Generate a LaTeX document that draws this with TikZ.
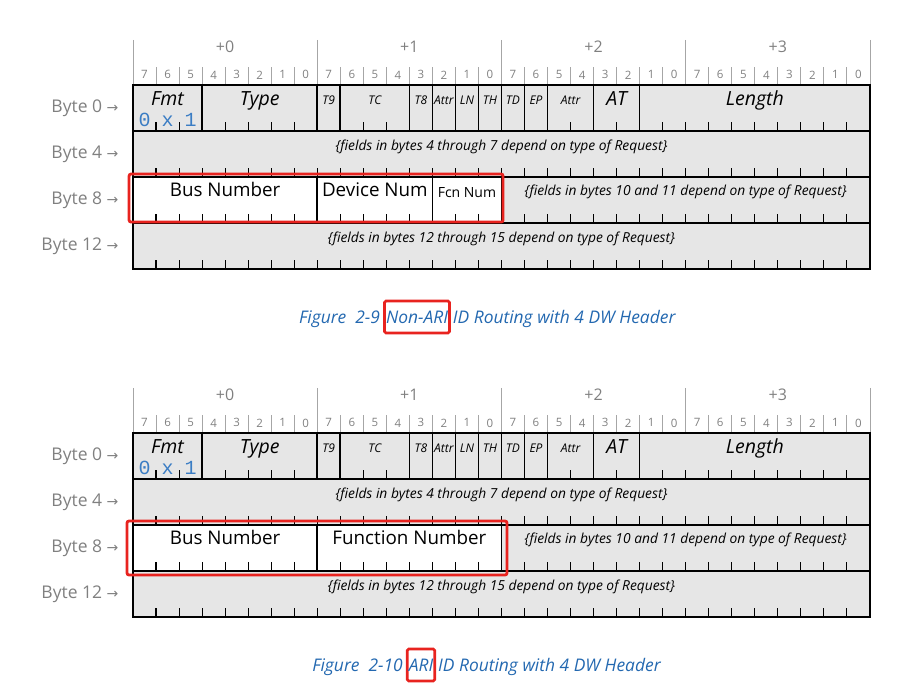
\documentclass[tikz,border=0pt]{standalone}
\usepackage{fontspec}
\setmainfont{Open Sans}
\newfontfamily\arrowfont{DejaVu Sans}
\newfontfamily\hexfont{Liberation Mono}
\usetikzlibrary{positioning}
\definecolor{cellgray}{HTML}{E6E6E6}
\definecolor{rulegray}{HTML}{A6A6A6}
\definecolor{labgray}{HTML}{808080}
\definecolor{hexblue}{HTML}{3B7DC4}
\definecolor{capblue}{HTML}{2368B0}
\definecolor{hilite}{HTML}{E8231F}
\newcommand\fsz[1]{\fontsize{#1}{#1}\selectfont}

\begin{document}
\begin{tikzpicture}[x=1pt,y=-1pt,
  cell/.style={draw=black,line width=1.6pt,fill=cellgray},
  blank/.style={draw=black,line width=1.6pt,fill=white},
  fieldsep/.style={draw=black,line width=1.6pt},
  tick/.style={line width=1.1pt},
  rulel/.style={draw=rulegray,line width=0.9pt},
  head/.style={font=\fsz{16},text=labgray},
  bitnum/.style={font=\fsz{11.5},text=labgray},
  bytelab/.style={font=\fsz{17.5},text=labgray,anchor=east},
  big/.style={font=\fsz{19.5}\itshape,inner sep=0pt,text height=14pt,text depth=3pt},
  small/.style={font=\fsz{12}\itshape,inner sep=0pt},
  note/.style={font=\fsz{13.8}\itshape},
  fieldname/.style={font=\fsz{18.8}},
  fcn/.style={font=\fsz{14}},
  hex/.style={font=\hexfont\fsz{20},text=hexblue,inner sep=0pt,text height=11pt,text depth=0pt},
  capt/.style={font=\fsz{17.4}\itshape,text=capblue,inner sep=0pt},
  keybox/.style={draw=hilite,line width=2.6pt,rounded corners=1.5pt,inner xsep=1.5pt,minimum height=32pt},
  redbox/.style={draw=hilite,line width=2.8pt,rounded corners=2pt}]
\useasboundingbox (0,0) rectangle (924,686);
\foreach \dy/\fg/\fnum/\kw/\kx in {0/a/2-9/Non-ARI/417,348/b/2-10/ARI/421} {
 \begin{scope}[shift={(133,85+\dy)},x=23.03pt,y=-46pt]
  \foreach \b in {0,...,32} \draw[rulel] (\b,-0.39) -- (\b,0);
  \foreach \b in {0,8,...,32} \draw[rulel] (\b,-0.98) -- (\b,0);
  \foreach \k in {0,...,3} \node[head] (\fg-hd\k) at (8*\k+4,-0.83) {+\k};
  \foreach \b in {0,...,31} {\pgfmathtruncatemacro\n{7-mod(\b,8)}
   \node[bitnum] (\fg-bit\b) at (\b+0.5,-0.22) {\n};}
  \foreach \r/\n in {0/0,1/4,2/8,3/12}
   \node[bytelab] (\fg-byte\n) at (-0.48,\r+0.5) {Byte \n\ {\arrowfont\fsz{14}→}};
  \foreach \s/\e/\lab/\sty in {0/3/Fmt/big,3/8/Type/big,8/9/T9/small,9/12/TC/small,12/13/T8/small,13/14/Attr/small,14/15/LN/small,15/16/TH/small,16/17/TD/small,17/18/EP/small,18/20/Attr/small,20/22/AT/big,22/32/Length/big} {
   \draw[cell] (\s,0) rectangle (\e,1);
   \node[\sty] (\fg-f\s) at ({(\s+\e)/2},0.33) {\lab};}
  \foreach \b/\ch in {0/0,1/x,2/1} \node[hex] (\fg-hex\b) at (\b+0.5,0.79) {\ch};
  \draw[cell] (0,1) rectangle (32,2);
  \draw[blank] (0,2) rectangle (16,3);
  \draw[cell] (16,2) rectangle (32,3);
  \draw[cell] (0,3) rectangle (32,4);
  \draw[fieldsep] (8,2) -- (8,3);
  \foreach \r in {1,...,4} \foreach \b in {1,...,31} \draw[tick] (\b,\r) -- (\b,\r-0.19);
  \node[note] (\fg-n4) at (16,1.35) {\{fields in bytes 4 through 7 depend on type of Request\}};
  \node[note] (\fg-n10) at (24,2.33) {\{fields in bytes 10 and 11 depend on type of Request\}};
  \node[note] (\fg-n12) at (16,3.35) {\{fields in bytes 12 through 15 depend on type of Request\}};
  \node[fieldname] (\fg-bus) at (4,2.28) {Bus Number};
 \end{scope}
 \node[capt,keybox] (\fg-key) at (\kx,317+\dy) {\kw};
 \node[capt,anchor=base east] (\fg-capl) at ([xshift=-3pt]\fg-key.base west) {Figure\ \ \fnum};
 \node[capt,anchor=base west] (\fg-capr) at ([xshift=2pt]\fg-key.base east) {ID Routing with 4 DW Header};}
\begin{scope}[shift={(133,85)},x=23.03pt,y=-46pt]
 \draw[fieldsep] (13,2) -- (13,3);
 \node[fieldname] (a-dev) at (10.5,2.28) {Device Num};
 \node[fcn] (a-fcn) at (14.5,2.33) {Fcn Num};
 \draw[redbox] (-0.17,1.935) rectangle (16.07,2.98);
\end{scope}
\begin{scope}[shift={(133,433)},x=23.03pt,y=-46pt]
 \node[fieldname] (b-fun) at (12,2.28) {Function Number};
 \draw[redbox] (-0.26,1.913) rectangle (16.24,3.087);
\end{scope}
\end{tikzpicture}
\end{document}
